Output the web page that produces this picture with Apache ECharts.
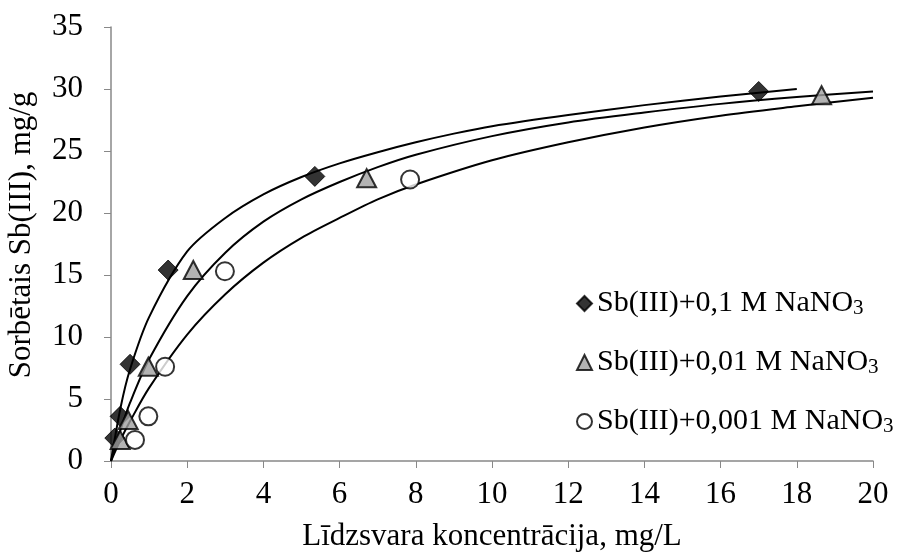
<!DOCTYPE html>
<html><head><meta charset="utf-8">
<script src="https://cdn.jsdelivr.net/npm/echarts@6/dist/echarts.min.js"></script>
<style>html,body{margin:0;padding:0;background:#fff}#c{width:901px;height:556px}</style>
</head><body><div id="c"></div>
<script>
// Series names
const seriesNames = ['Sb(III)+0,1 M NaNO3', 'Sb(III)+0,01 M NaNO3', 'Sb(III)+0,001 M NaNO3'];
// Measured points [concentration mg/L, sorbed mg/g]
const pts01 = [[0.1,1.85],[0.24,3.6],[0.5,7.8],[1.5,15.4],[5.35,22.95],[17.0,29.8]];
const pts001 = [[0.24,1.7],[0.45,3.3],[0.98,7.6],[2.16,15.4],[6.71,22.8],[18.65,29.5]];
const pts0001 = [[0.63,1.7],[0.98,3.6],[1.42,7.6],[2.99,15.3],[7.85,22.7]];
// Fitted curves
const fit01 = [[0,0],[0.25,4.3],[0.5,7.4],[1,11.6],[2,16.9],[3,19.6],[4,21.5],[5,22.9],[6,24.0],[7,24.9],[8,25.7],[9,26.4],[10,27.0],[12,27.9],[14,28.7],[16,29.4],[18,30.0]];
const fit001 = [[0,0],[0.25,2.5],[0.5,4.7],[1,8.2],[2,13.3],[3,16.8],[4,19.3],[5,21.1],[6,22.5],[7,23.7],[8,24.7],[10,26.2],[12,27.3],[14,28.1],[16,28.8],[18,29.35],[20,29.8]];
const fit0001 = [[0,0],[0.25,1.7],[0.5,3.2],[1,5.9],[2,10.2],[3,13.45],[4,16.0],[5,18.0],[6,19.6],[7,21.1],[8,22.3],[10,24.25],[12,25.7],[14,26.9],[16,27.85],[18,28.6],[20,29.3]];
// Axis ticks
const xTicks = {min:0, max:20, interval:2};
const yTicks = {min:0, max:35, interval:5};

const FONT = 'Liberation Serif';
const chart = echarts.init(document.getElementById('c'), null, {renderer:'canvas'});
const lineStyle = {color:'#000', width:2};
function fitSeries(d){
  return {type:'line', data:d, showSymbol:false, smooth:0.3, lineStyle:lineStyle, z:2, silent:true};
}
chart.setOption({
  animation:false,
  backgroundColor:'#fff',
  grid:{left:111, right:28, top:27, bottom:95, containLabel:false, outerBoundsMode:'none'},
  legend:{
    data:seriesNames,
    orient:'vertical', left:571, top:280, itemGap:25,
    itemWidth:15, itemHeight:15, itemSpacing:4,
    formatter:function(n){return '{a|'+n.slice(0,-1)+'}{s|3}';},
    textStyle:{
      color:'#000', fontFamily:FONT, fontSize:30,
      rich:{
        a:{fontFamily:FONT, fontSize:30, color:'#000', lineHeight:31},
        s:{fontFamily:FONT, fontSize:21, color:'#000', lineHeight:17, verticalAlign:'bottom', padding:[13,0,0,0]}
      }
    }
  },
  xAxis:{
    type:'value', min:xTicks.min, max:xTicks.max, interval:xTicks.interval,
    name:'Līdzsvara koncentrācija, mg/L', nameLocation:'middle', nameGap:60,
    nameTextStyle:{color:'#000', fontFamily:FONT, fontSize:31},
    axisLine:{lineStyle:{color:'#888', width:1.5}},
    axisTick:{show:true, inside:false, length:7, lineStyle:{color:'#888'}},
    axisLabel:{color:'#000', fontFamily:FONT, fontSize:31, margin:18},
    splitLine:{show:false}
  },
  yAxis:{
    type:'value', min:yTicks.min, max:yTicks.max, interval:yTicks.interval,
    name:'Sorbētais Sb(III), mg/g', nameLocation:'middle', nameGap:74,
    nameTextStyle:{color:'#000', fontFamily:FONT, fontSize:31, padding:[0,0,0,18]},
    axisLine:{show:true, lineStyle:{color:'#888', width:1.5}},
    axisTick:{show:true, inside:false, length:7, lineStyle:{color:'#888'}},
    axisLabel:{color:'#000', fontFamily:FONT, fontSize:31, margin:28},
    splitLine:{show:false}
  },
  series:[
    fitSeries(fit01), fitSeries(fit001), fitSeries(fit0001),
    {name:seriesNames[0], type:'scatter', data:pts01, symbol:'diamond', symbolSize:20, z:5,
     itemStyle:{color:'#000', borderColor:'#000', borderWidth:1}},
    {name:seriesNames[1], type:'scatter', data:pts001, symbol:'triangle', symbolSize:[19,18], z:5,
     itemStyle:{color:'#a0a0a0', borderColor:'#000', borderWidth:2}},
    {name:seriesNames[2], type:'scatter', data:pts0001, symbol:'circle', symbolSize:18, z:5,
     itemStyle:{color:'#fff', borderColor:'#000', borderWidth:2}}
  ]
});
</script>
</body></html>
